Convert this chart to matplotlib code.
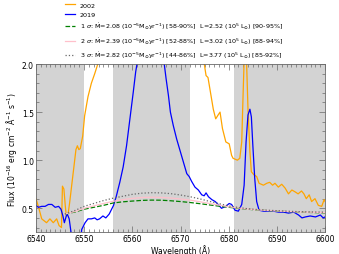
import numpy as np
from matplotlib import pyplot as plt
from matplotlib.ticker import MultipleLocator

# 2002 spectrum (orange)
wl_2002 = [6540.0, 6540.5, 6541.2, 6542.2, 6542.9, 6543.6, 6544.3, 6544.8, 6545.3, 6545.5,
           6545.8, 6546.1, 6546.3, 6546.7, 6547.0, 6547.4, 6547.9, 6548.3, 6548.6, 6548.9,
           6549.2, 6549.7, 6550.1, 6550.8, 6551.5, 6552.2, 6552.9, 6553.5, 6574.5, 6574.9,
           6575.3, 6575.7, 6576.1, 6576.8, 6577.3, 6577.8, 6578.2, 6578.7, 6579.4, 6580.1,
           6580.6, 6580.9, 6581.8, 6582.3, 6582.7, 6583.0, 6583.3, 6583.6, 6584.0, 6584.4,
           6584.7, 6585.2, 6585.8, 6586.3, 6587.2, 6587.9, 6588.5, 6589.1, 6589.6, 6590.3,
           6591.0, 6591.7, 6592.4, 6593.1, 6593.8, 6594.4, 6595.1, 6595.6, 6596.1, 6596.7,
           6597.2, 6597.9, 6598.6, 6599.3, 6599.8, 6600.0]
flux_2002 = [0.60, 0.52, 0.39, 0.35, 0.39, 0.35, 0.39, 0.32, 0.30, 0.73,
             0.70, 0.52, 0.42, 0.45, 0.56, 0.73, 0.94, 1.11, 1.15, 1.11,
             1.12, 1.25, 1.46, 1.66, 1.80, 1.90, 2.01, 2.2, 2.2, 2.01,
             1.88, 1.86, 1.74, 1.53, 1.43, 1.47, 1.50, 1.33, 1.19, 1.17,
             1.05, 1.02, 1.00, 1.02, 1.19, 1.71, 2.2, 2.2, 1.53, 1.09,
             0.88, 0.85, 0.83, 0.76, 0.74, 0.76, 0.77, 0.74, 0.76, 0.72,
             0.75, 0.71, 0.65, 0.69, 0.67, 0.65, 0.68, 0.65, 0.60, 0.64,
             0.57, 0.60, 0.53, 0.52, 0.59, 0.57]

# 2019 spectrum (blue)
wl_2019 = [6540.0, 6540.5, 6541.2, 6541.9, 6542.6, 6543.3, 6544.0, 6544.7, 6545.2, 6545.6,
           6545.9, 6546.3, 6546.5, 6546.9, 6547.2, 6547.6, 6549.2, 6549.5, 6550.2, 6550.8,
           6551.5, 6552.2, 6552.7, 6553.2, 6553.9, 6554.5, 6555.2, 6556.1, 6556.7, 6557.4,
           6558.1, 6558.8, 6559.5, 6560.2, 6560.7, 6561.0, 6561.5, 6566.2, 6566.6, 6567.0,
           6567.5, 6567.9, 6568.5, 6569.2, 6569.9, 6570.6, 6571.3, 6571.8, 6572.3, 6573.0,
           6573.7, 6574.4, 6574.9, 6575.3, 6575.8, 6576.5, 6577.2, 6577.8, 6578.5, 6579.4,
           6580.1, 6580.6, 6581.3, 6582.0, 6582.7, 6583.2, 6583.6, 6584.0, 6584.4, 6584.7,
           6585.0, 6585.4, 6585.8, 6586.3, 6587.2, 6588.2, 6589.3, 6590.3, 6591.4, 6592.4,
           6593.5, 6594.5, 6595.2, 6595.9, 6596.9, 6598.0, 6599.0, 6599.6, 6600.0]
flux_2019 = [0.53, 0.51, 0.52, 0.52, 0.54, 0.54, 0.51, 0.52, 0.49, 0.42,
             0.35, 0.42, 0.44, 0.39, 0.28, 0.15, 0.15, 0.28, 0.35, 0.39,
             0.39, 0.40, 0.38, 0.39, 0.42, 0.40, 0.44, 0.53, 0.63, 0.77,
             0.93, 1.15, 1.43, 1.71, 1.92, 2.01, 2.2, 2.2, 2.01, 1.85,
             1.67, 1.50, 1.36, 1.22, 1.10, 0.98, 0.86, 0.83, 0.78, 0.72,
             0.69, 0.64, 0.63, 0.66, 0.62, 0.59, 0.57, 0.54, 0.50, 0.52,
             0.55, 0.54, 0.48, 0.47, 0.54, 0.74, 1.19, 1.47, 1.53, 1.45,
             1.16, 0.81, 0.57, 0.48, 0.47, 0.47, 0.47, 0.46, 0.46, 0.45,
             0.46, 0.43, 0.40, 0.41, 0.42, 0.41, 0.43, 0.40, 0.41]

# model profiles
wl_model = [6546, 6548, 6550, 6552, 6554, 6556, 6558, 6560, 6562, 6564, 6566, 6568, 6570, 6572,
            6574, 6576, 6578, 6580, 6582, 6584, 6586, 6588, 6590, 6592, 6594, 6596, 6598, 6600]
model_1s = [0.44, 0.46, 0.49, 0.51, 0.53, 0.555, 0.567, 0.575, 0.582, 0.585, 0.584, 0.578, 0.57, 0.56,
            0.548, 0.535, 0.522, 0.51, 0.50, 0.49, 0.482, 0.476, 0.47, 0.466, 0.462, 0.458, 0.455, 0.452]
model_2s = [0.44, 0.465, 0.50, 0.525, 0.55, 0.572, 0.59, 0.603, 0.612, 0.615, 0.613, 0.607, 0.597, 0.585,
            0.568, 0.55, 0.533, 0.516, 0.503, 0.492, 0.483, 0.477, 0.472, 0.467, 0.463, 0.46, 0.458, 0.455]
model_3s = [0.44, 0.475, 0.52, 0.55, 0.58, 0.605, 0.625, 0.645, 0.657, 0.662, 0.66, 0.652, 0.638, 0.62,
            0.598, 0.572, 0.548, 0.525, 0.508, 0.495, 0.487, 0.48, 0.475, 0.47, 0.466, 0.463, 0.461, 0.46]

labels = ["2002", "2019",
          r"1 $\sigma$: $\dot{\rm M}$=2.08 (10$^{-5}$M$_{\odot}$yr$^{-1}$) [58-90%]  L=2.52 (10$^5$ L$_{\odot}$) [90-95%]",
          r"2 $\sigma$: $\dot{\rm M}$=2.39 (10$^{-5}$M$_{\odot}$yr$^{-1}$) [52-88%]  L=3.02 (10$^5$ L$_{\odot}$) [88-94%]",
          r"3 $\sigma$: $\dot{\rm M}$=2.82 (10$^{-5}$M$_{\odot}$yr$^{-1}$) [44-86%]  L=3.77 (10$^5$ L$_{\odot}$) [85-92%]"]

shade = [(6540, 6550), (6556, 6572), (6581, 6600)]

fig = plt.figure(figsize=(3.39, 2.55), dpi=100)
ax = fig.add_axes([0.106, 0.085, 0.853, 0.660])

for a, b in shade:
    ax.axvspan(a, b, color='lightgrey', lw=0, zorder=0)

ax.plot(wl_2002, flux_2002, color='orange', lw=0.9, label=labels[0])
ax.plot(wl_2019, flux_2019, color='blue', lw=0.9, label=labels[1])
ax.plot(wl_model, model_1s, color='green', ls='--', lw=0.9, label=labels[2])
ax.plot(wl_model, model_2s, color='pink', ls='-', lw=0.9, label=labels[3])
ax.plot(wl_model, model_3s, color='dimgray', ls=':', lw=0.9, label=labels[4])

ax.set_xlim(6540, 6600)
ax.set_ylim(0.25, 2.0)
ax.xaxis.set_major_locator(MultipleLocator(10))
ax.xaxis.set_minor_locator(MultipleLocator(1))
ax.yaxis.set_major_locator(MultipleLocator(0.5))
ax.yaxis.set_minor_locator(MultipleLocator(0.1))
ax.tick_params(which='both', direction='in', top=True, right=True, labelsize=5.5, width=0.5,
               color='dimgray', pad=1.5)
ax.tick_params(which='major', length=4)
ax.tick_params(which='minor', length=2)
for s in ax.spines.values():
    s.set_linewidth(0.6)
    s.set_color('dimgray')
ax.set_xlabel("Wavelength (Å)", fontsize=5.5, labelpad=0.5)
ax.set_ylabel(r"Flux (10$^{-16}$ erg cm$^{-2}$ Å$^{-1}$ s$^{-1}$)", fontsize=5.5, labelpad=2)

fig.legend(loc='upper left', bbox_to_anchor=(0.175, 1.01), frameon=False, fontsize=4.6,
           handlelength=1.6, handletextpad=0.7, labelspacing=0.6)

plt.savefig("out.png", dpi=100)
